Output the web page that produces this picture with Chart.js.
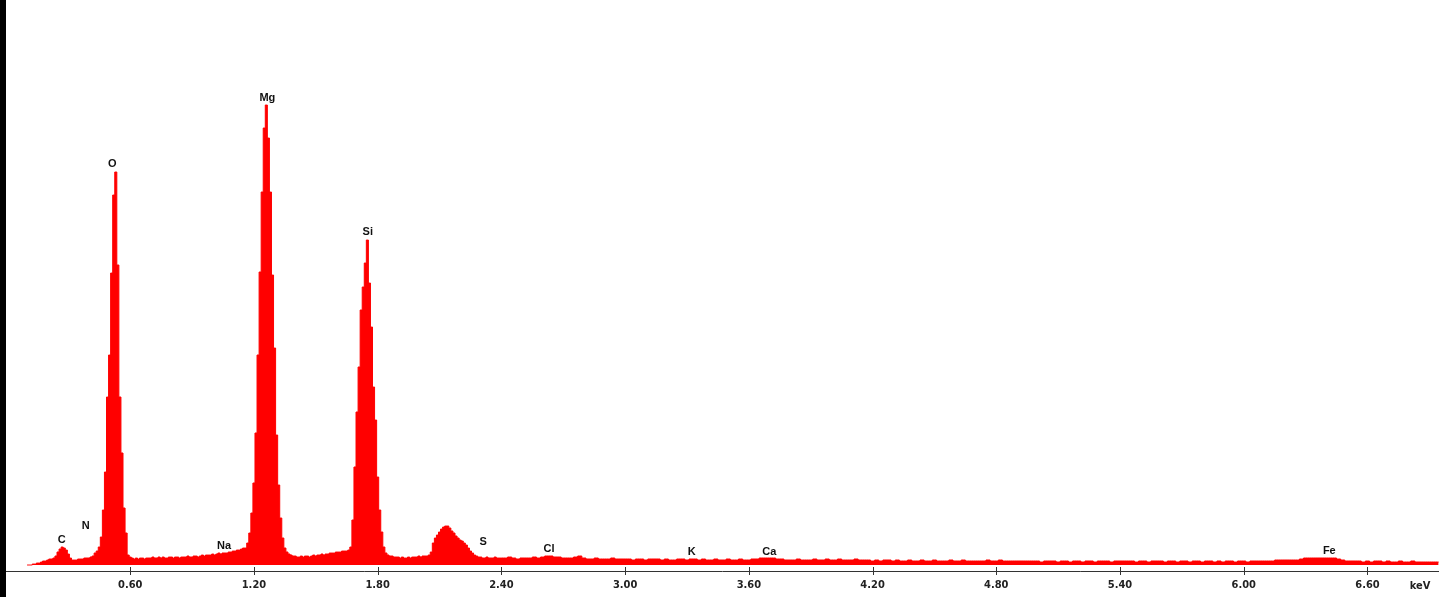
<!DOCTYPE html>
<html>
<head>
<meta charset="utf-8">
<title>EDS spectrum</title>
<script src="https://cdn.jsdelivr.net/npm/chart.js@4.4.0/dist/chart.umd.min.js"></script>
<style>
    html, body { margin: 0; padding: 0; background: #fff; overflow: hidden; }
    #wrap { width: 1450px; height: 597px; position: relative; }
</style>
</head>
<body>
<div id="wrap"><canvas id="spectrum"></canvas></div>
<script>
// counts per 10 eV channel, 0.10 .. 2.39 keV
const lowStart = 0.10;
const lowStep = 0.01;
const lowCounts = [
    0, 0, 0, 1, 1, 2, 2, 3, 4, 4,
    5, 6, 6, 7, 9, 13, 16, 18, 17, 15,
    11, 7, 5, 5, 5, 6, 6, 6, 7, 7,
    7, 8, 9, 12, 14, 18, 28, 55, 93, 168,
    210, 292, 370, 393, 300, 168, 112, 57, 32, 10,
    8, 7, 6, 7, 6, 7, 7, 6, 7, 7,
    7, 8, 7, 7, 8, 7, 8, 7, 7, 8,
    8, 7, 8, 8, 7, 8, 8, 8, 9, 8,
    8, 9, 9, 8, 9, 10, 9, 10, 10, 10,
    11, 10, 11, 12, 11, 12, 12, 12, 13, 13,
    14, 14, 15, 15, 16, 17, 17, 22, 32, 52,
    82, 132, 210, 293, 373, 437, 460, 427, 373, 290,
    217, 130, 80, 47, 27, 17, 13, 11, 10, 9,
    9, 8, 8, 9, 8, 9, 9, 8, 9, 10,
    9, 10, 10, 11, 10, 11, 11, 12, 12, 12,
    13, 13, 13, 14, 14, 14, 15, 18, 45, 98,
    153, 198, 255, 278, 302, 325, 282, 238, 178, 145,
    88, 55, 33, 18, 12, 10, 9, 9, 8, 8,
    8, 7, 8, 7, 7, 8, 7, 8, 8, 8,
    9, 8, 9, 9, 9, 10, 13, 22, 27, 30,
    33, 36, 38, 39, 39, 37, 34, 32, 29, 27,
    25, 24, 22, 20, 17, 14, 12, 10, 9, 8,
    8, 7, 7, 8, 7, 7, 7, 8, 7, 7
];

// tail of the spectrum, 20 eV bins, 2.40 .. 6.96 keV
const highStart = 2.40;
const highStep = 0.02;
const highCounts = [
    7, 7, 8, 7, 6, 7, 7, 7, 8, 7,
    8, 9, 9, 8, 8, 7, 7, 7, 8, 9,
    7, 6, 6, 7, 6, 6, 6, 7, 6, 6,
    6, 6, 5, 6, 6, 5, 6, 6, 6, 5,
    6, 5, 5, 6, 6, 5, 6, 6, 5, 6,
    5, 5, 6, 5, 5, 6, 5, 5, 6, 5,
    5, 6, 6, 7, 7, 7, 7, 6, 6, 5,
    5, 5, 6, 5, 5, 5, 6, 5, 5, 6,
    5, 5, 6, 5, 5, 5, 6, 5, 5, 5,
    4, 5, 4, 5, 5, 4, 5, 4, 4, 5,
    4, 4, 5, 4, 4, 5, 4, 4, 4, 5,
    4, 4, 5, 4, 4, 4, 4, 4, 5, 4,
    4, 5, 4, 4, 4, 4, 4, 4, 4, 4,
    4, 3, 4, 4, 4, 3, 4, 4, 3, 4,
    4, 3, 4, 4, 3, 4, 4, 4, 3, 4,
    4, 4, 4, 4, 3, 4, 4, 3, 4, 4,
    4, 3, 4, 4, 3, 4, 4, 3, 4, 4,
    3, 4, 4, 3, 4, 3, 4, 4, 3, 4,
    4, 3, 4, 4, 4, 4, 4, 4, 5, 5,
    5, 5, 5, 5, 6, 7, 7, 7, 7, 7,
    7, 7, 7, 6, 5, 4, 4, 4, 4, 3,
    4, 3, 4, 4, 3, 4, 3, 3, 4, 3,
    3, 4, 3, 3, 3, 3, 3, 3, 3
];

const tickValues = [0.6, 1.2, 1.8, 2.4, 3.0, 3.6, 4.2, 4.8, 5.4, 6.0, 6.6];
const axisUnit = 'keV';
const axisUnitAt = 6.855;

const peakLabels = ['C', 'N', 'O', 'Na', 'Mg', 'Si', 'S', 'Cl', 'K', 'Ca', 'Fe'];
const peakEnergies = [0.268, 0.384, 0.513, 1.055, 1.265, 1.752, 2.312, 2.631, 3.323, 3.699, 6.415];
const labelCounts = [25, 39, 401, 19, 467, 333, 23, 16, 13, 13, 14];

const points = [
    ...lowCounts.map((c, i) => ({ x: lowStart + i * lowStep, y: c })),
    ...highCounts.map((c, i) => ({ x: highStart + i * highStep, y: c }))
];

const tickFamily = "'DejaVu Sans Condensed', 'Liberation Sans Narrow', sans-serif";
const tickFont = "bold 11px " + tickFamily;
const labelFont = "bold 11px 'Liberation Sans', Arial, sans-serif";

const decorPlugin = {
    id: 'decor',
    beforeDraw: (chart) => {
        const ctx = chart.ctx;
        ctx.save();
        ctx.fillStyle = '#fff';
        ctx.fillRect(0, 0, chart.width, chart.height);
        ctx.fillStyle = '#000';
        ctx.fillRect(0, 0, 6, chart.height);
        ctx.restore();
    },
    afterDatasetsDraw: (chart) => {
        const ctx = chart.ctx;
        const x = chart.scales.x;
        const y = chart.scales.y;
        const bottom = chart.chartArea.bottom;
        ctx.save();

        // axis tick marks, crossing the axis line
        ctx.strokeStyle = '#333';
        ctx.lineWidth = 1;
        tickValues.forEach(v => {
            const px = Math.round(x.getPixelForValue(v)) + 0.5;
            ctx.beginPath();
            ctx.moveTo(px, bottom - 4);
            ctx.lineTo(px, bottom + 4);
            ctx.stroke();
        });

        // unit at the end of the axis
        ctx.fillStyle = '#222';
        ctx.font = tickFont;
        ctx.textAlign = 'center';
        ctx.textBaseline = 'middle';
        ctx.fillText(axisUnit, x.getPixelForValue(axisUnitAt), bottom + 15);

        // element labels
        ctx.fillStyle = '#111';
        ctx.font = labelFont;
        peakLabels.forEach((lbl, i) => {
            ctx.fillText(lbl, x.getPixelForValue(peakEnergies[i]), y.getPixelForValue(labelCounts[i]));
        });
        ctx.restore();
    }
};

new Chart(document.getElementById('spectrum'), {
    type: 'line',
    data: {
        datasets: [{
            data: points,
            stepped: 'middle',
            borderColor: '#ff0000',
            backgroundColor: '#ff0000',
            borderWidth: 1,
            pointRadius: 0,
            fill: 'origin'
        }]
    },
    options: {
        responsive: true,
        maintainAspectRatio: false,
        animation: false,
        devicePixelRatio: 1,
        layout: { padding: { left: 6.5, right: 11.4, top: 0, bottom: 0 } },
        plugins: { legend: { display: false }, tooltip: { enabled: false } },
        scales: {
            x: {
                type: 'linear',
                min: 0,
                max: 6.945,
                grid: { display: true, drawOnChartArea: false, drawTicks: false },
                border: { display: true, color: '#333', width: 1 },
                ticks: {
                    color: '#222',
                    padding: 8,
                    maxRotation: 0,
                    font: { family: tickFamily, size: 11, weight: 'bold' },
                    callback: v => v.toFixed(2)
                },
                afterBuildTicks: scale => { scale.ticks = tickValues.map(v => ({ value: v })); },
                afterFit: scale => { scale.height = 26; scale.paddingLeft = 0; scale.paddingRight = 0; }
            },
            y: {
                display: false,
                min: -6,
                max: 565
            }
        }
    },
    plugins: [decorPlugin]
});
</script>
</body>
</html>
